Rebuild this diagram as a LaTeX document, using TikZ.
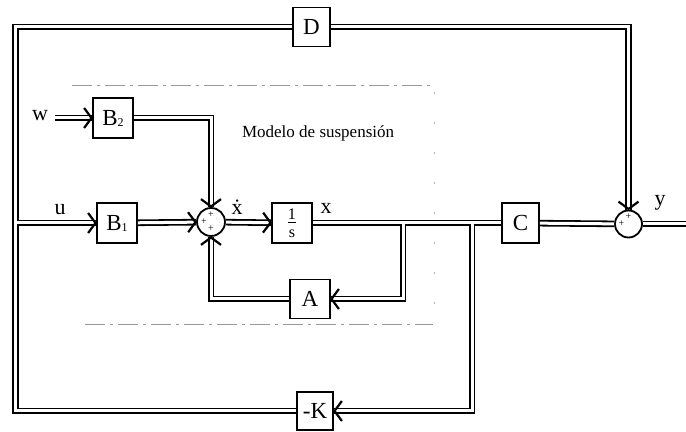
\documentclass[tikz,border=0pt]{standalone}
\usepackage{fontspec}
\setmainfont{Liberation Serif}
\usetikzlibrary{decorations.markings}

\begin{document}
\begin{tikzpicture}[x=0.5pt,y=-0.5pt,
    sig/.style={double, double distance=1.5pt, line width=0.9pt},
    sigarr/.style={sig, decoration={markings, mark=at position 1 with {\draw[line width=1.1pt, line join=miter] (-4pt,5pt) -- (-0.3pt,0) -- (-4pt,-5pt);}}, postaction={decorate}},
    blk/.style={draw, line width=0.9pt, minimum width=20pt, minimum height=20pt, inner sep=0pt, font=\fontsize{11.5}{12}\selectfont},
    sumc/.style={draw, circle, line width=0.9pt, minimum size=14pt, inner sep=0pt},
    sgn/.style={font=\fontsize{5}{5}\selectfont, inner sep=0pt},
    lbl/.style={font=\fontsize{11}{11}\selectfont, inner sep=0pt},
    frame/.style={gray!80, line width=0.5pt, dash pattern=on 10pt off 2.5pt on 1.5pt off 2.5pt}]
    \useasboundingbox (0,0) rectangle (686,432);

    \draw[frame] (72,86) -- (435,86);
    \draw[frame] (85,325) -- (433,325);
    \draw[gray!60, line width=0.4pt, dash pattern=on 1pt off 14pt] (434,92) -- (434,320);
    \node[anchor=west, font=\fontsize{8.5}{9}\selectfont] (title) at (235,133) {Modelo de suspensión};

    \node[blk, minimum width=18.5pt, minimum height=19.5pt] (D) at (311.5,27) {D};
    \node[blk] (B2) at (113,118) {B\raisebox{-0.5pt}{\fontsize{6}{6}\selectfont 2}};
    \node[blk] (B1) at (117,223) {B\raisebox{-0.5pt}{\fontsize{6}{6}\selectfont 1}};
    \node[sumc] (sum) at (211,222) {};
    \node[blk] (integ) at (292,223) {$\frac{\mathrm{1}}{\mathrm{s}}$};
    \node[blk, minimum width=18.5pt] (C) at (520.5,223) {C};
    \node[sumc, minimum size=13.5pt] (sumy) at (628.5,224) {};
    \node[blk, minimum height=19.5pt] (A) at (310,299) {A};
    \node[blk, minimum width=18pt, minimum height=19pt] (K) at (315,411) {-K};

    \path (sum) +(0,-7) node[sgn] {+} +(-7,0) node[sgn] {+} +(0,7) node[sgn] {+};
    \draw[gray!60, line width=0.3pt, dotted] ([shift={(2,-7)}]sum.center) -- ([shift={(9,1)}]sum.center);
    \path (sumy) +(0,-7) node[sgn] {+} +(-7,0) node[sgn] {+};

    \coordinate (win) at (55,118);
    \coordinate (ltop) at (15.5,27);
    \coordinate (lbot) at (15.5,411);
    \coordinate (uj) at (17,223);
    \coordinate (xj1) at (403,224.5);
    \coordinate (xj2) at (472,224.5);
    \coordinate (yout) at (686,224);

    \draw[sig] (K) -- (lbot) -- (ltop) -- (D);
    \draw[sigarr] (D) -| (sumy);
    \draw[sigarr] (uj) -- (B1);
    \draw[sigarr] (win) -- (B2);
    \draw[sigarr] (B2) -| (sum);
    \draw[sigarr] (B1) -- (sum);
    \draw[sigarr] (sum) -- (integ);
    \draw[sig] (integ) -- (C);
    \draw[sig] (C) -- (sumy);
    \draw[sig] (sumy) -- (yout);
    \draw[sigarr] (xj1) |- (A);
    \draw[sigarr] (A) -| (sum);
    \draw[sigarr] (xj2) |- (K);

    \node[lbl] (wlbl) at (40,116) {w};
    \node[lbl] (ulbl) at (60,210) {u};
    \node[lbl] (xdlbl) at (237,207) {\.{x}};
    \node[lbl] (xlbl) at (326,208) {x};
    \node[lbl] (ylbl) at (660,203) {y};
\end{tikzpicture}
\end{document}
